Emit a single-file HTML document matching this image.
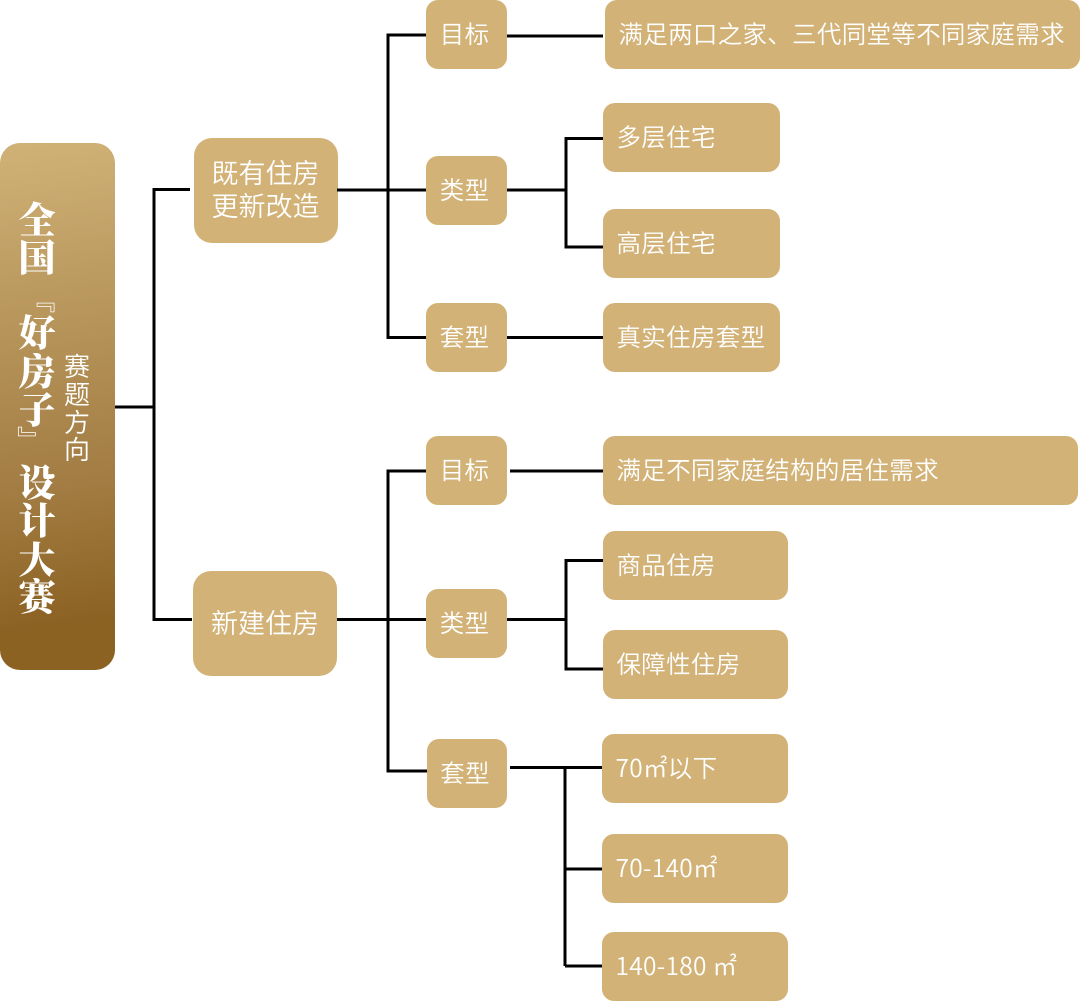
<!DOCTYPE html>
<html lang="zh">
<head>
<meta charset="utf-8">
<style>
html,body{margin:0;padding:0;background:#fff}
#c{position:relative;width:1080px;height:1002px;overflow:hidden;background:#fff;font-family:"Liberation Sans","Noto Sans CJK SC",sans-serif}
.b{position:absolute;background:#d2b277;border-radius:12px;color:#fff;font-size:24.5px;letter-spacing:.3px;line-height:1;display:flex;align-items:center;white-space:nowrap;box-sizing:border-box;font-weight:350;padding-top:3px}
.l{padding-left:13.500px}
.m{justify-content:center;text-align:center}
.s{padding-right:4px}
.n{font-family:"Noto Sans CJK SC",sans-serif;font-weight:350;padding-top:0}
.big{border-radius:18px;font-size:27px;line-height:33px;letter-spacing:0;padding-top:1px}
#root{position:absolute;left:0;top:143px;width:115px;height:527px;border-radius:20px;background:linear-gradient(172deg,#d0b277 0%,#b6945a 35%,#a27c42 65%,#8c6223 90%,#8c6223 100%)}
svg{position:absolute;left:0;top:0}
.v{position:absolute;writing-mode:vertical-rl;text-orientation:mixed;color:#fff;font-family:"Noto Serif CJK SC",serif;font-size:27px;line-height:27px;width:27px;height:27px;white-space:nowrap;z-index:2}
</style>
</head>
<body>
<div id="c">
<div id="root"></div>

<div class="b big m" style="left:193.500px;top:138px;width:144px;height:105px">既有住房<br>更新改造</div>
<div class="b big m" style="left:193px;top:571px;width:144px;height:105px">新建住房</div>

<div class="b m s" style="left:426px;top:0;width:81px;height:69px">目标</div>
<div class="b m s" style="left:426px;top:156px;width:81px;height:69px">类型</div>
<div class="b m s" style="left:426px;top:303px;width:81px;height:69px">套型</div>
<div class="b m s" style="left:426px;top:436px;width:81px;height:69px">目标</div>
<div class="b m s" style="left:426px;top:589px;width:81px;height:69px">类型</div>
<div class="b m s" style="left:427px;top:739px;width:80px;height:69px">套型</div>

<div class="b l" style="left:605px;top:0;width:475px;height:69px">满足两口之家、三代同堂等不同家庭需求</div>
<div class="b l" style="left:603px;top:103px;width:177px;height:69px">多层住宅</div>
<div class="b l" style="left:603px;top:209px;width:177px;height:69px">高层住宅</div>
<div class="b l" style="left:603px;top:303px;width:177px;height:69px">真实住房套型</div>
<div class="b l" style="left:603px;top:436px;width:475px;height:69px">满足不同家庭结构的居住需求</div>
<div class="b l" style="left:603px;top:531px;width:185px;height:69px">商品住房</div>
<div class="b l" style="left:603px;top:630px;width:185px;height:69px">保障性住房</div>
<div class="b l n" style="left:602px;top:734px;width:186px;height:69px">70㎡以下</div>
<div class="b l n" style="left:602px;top:834px;width:186px;height:69px">70-140㎡</div>
<div class="b l n" style="left:602px;top:932px;width:186px;height:69px">140-180 ㎡</div>

<svg width="1080" height="1002" viewBox="0 0 1080 1002" fill="none">
<g stroke="#000" stroke-width="3">
<path d="M115 407H154M190 189.500H154V619.500H192"/>
<path d="M337 190H426M426 35H388V337.500H426"/>
<path d="M507 36H603M507 190H566M603 138.500H566V247H603M507 337.500H603"/>
<path d="M337 619.500H426M426 471H388V771H427"/>
<path d="M510 471H603M507 619.500H566M603 560.500H566V669H603"/>
<path d="M510 767.500H602M565 767.500V966M565 869H602M565 966H602"/>
</g>
<g fill="#fff" font-family="'Noto Serif CJK SC',serif" font-weight="900" font-size="37" text-anchor="middle">
<text x="37" y="233">全</text>
<text x="37" y="271">国</text>
<text x="37" y="346">好</text>
<text x="37" y="385">房</text>
<text x="37" y="423">子</text>
<text x="37" y="496">设</text>
<text x="37" y="534">计</text>
<text x="37" y="573">大</text>
<text x="37" y="610">赛</text>
</g>
<g fill="#fff" font-family="'Liberation Sans','Noto Sans CJK SC',sans-serif" font-size="26" font-weight="350" text-anchor="middle">
<text x="77" y="376">赛</text>
<text x="77" y="404">题</text>
<text x="77" y="432">方</text>
<text x="77" y="459">向</text>
</g>
</svg>
<div class="v" style="left:28.500px;top:286px">『</div>
<div class="v" style="left:17px;top:426px">』</div>
</div>
</body>
</html>
